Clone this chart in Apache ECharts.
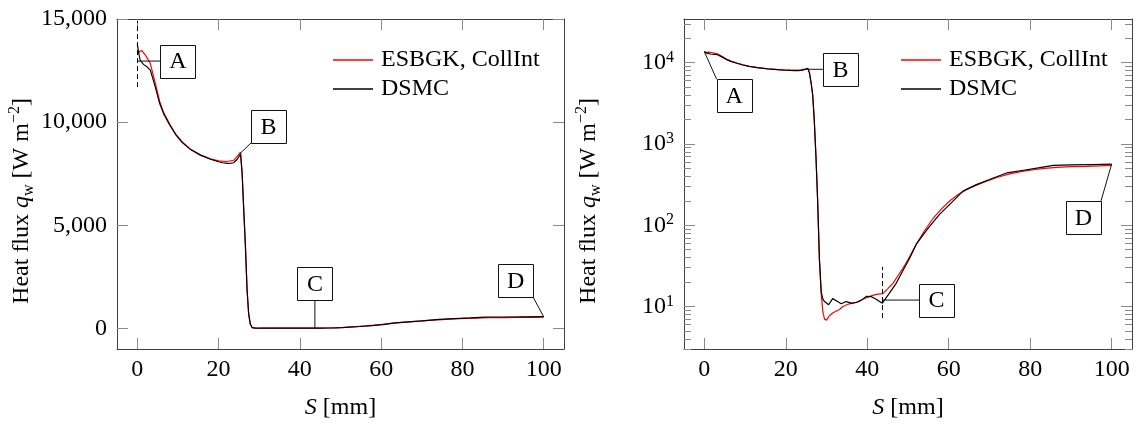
<!DOCTYPE html>
<html><head><meta charset="utf-8">
<script src="https://cdn.jsdelivr.net/npm/echarts@6/dist/echarts.min.js"></script>
<style>html,body{margin:0;padding:0;background:#fff}#c{width:1141px;height:428px}</style>
</head><body><div id="c"></div>
<script>
// ---- data (S in mm, heat flux in W m^-2) ----
const esbgkS = [0, 0.5, 1.1, 2.0, 3.2, 4.4, 5.5, 6.5, 8.0, 9.5, 11.0, 13.0, 15.5, 18.0, 20.0, 22.0, 23.7, 24.6, 25.4, 25.8, 26.2, 26.6, 27.0, 27.4, 27.8, 28.25, 28.7, 29.1, 29.5, 30.0, 30.7, 31.5, 32.3, 33.2, 34.0, 35.6, 37.3, 38.9, 40.6, 42.2, 43.8, 45.0, 46.3, 47.9, 49.2, 50.5, 52.0, 54.0, 56.2, 58.3, 60.3, 62.4, 64.4, 66.8, 69.3, 72.0, 75.0, 78.0, 80.8, 83.5, 86.5, 90.0, 93.9, 97.0, 100];
const esbgkQ = [13300, 13420, 13470, 13250, 12840, 11900, 11000, 10450, 9900, 9400, 9050, 8700, 8420, 8220, 8120, 8090, 8150, 8350, 8540, 7500, 5700, 4000, 1900, 700, 210, 38, 14, 8.6, 7.0, 6.8, 7.7, 8.3, 8.75, 9.2, 10.0, 10.8, 11.2, 12.3, 13.3, 14.1, 14.4, 16.5, 19.3, 25.5, 32, 42, 58, 85, 122, 160, 200, 240, 276, 312, 348, 390, 428, 460, 482, 500, 515, 525, 530, 538, 545];
const dsmcS = [0, 0.3, 0.7, 1.5, 2.4, 3.2, 4.4, 5.5, 6.5, 8.0, 9.5, 11.0, 13.0, 15.5, 18.0, 20.0, 21.0, 22.1, 23.0, 23.7, 24.6, 25.4, 25.8, 26.2, 26.6, 27.0, 27.4, 27.8, 28.25, 28.7, 29.1, 29.5, 30.5, 31.5, 32.6, 33.6, 34.8, 36.1, 37.3, 38.5, 39.75, 41.0, 42.2, 43.0, 43.7, 45.4, 47.1, 48.8, 50.5, 52.0, 54.8, 57.8, 60.5, 63.5, 66.8, 70.0, 74.2, 78.0, 82.0, 85.7, 90.0, 95.0, 100];
const dsmcQ = [13790, 13400, 13000, 12800, 12680, 12520, 11720, 10900, 10400, 9850, 9380, 9020, 8690, 8400, 8200, 8080, 8030, 8000, 8010, 8030, 8200, 8460, 7500, 5700, 4000, 1900, 700, 210, 38, 15, 12.3, 11.5, 10.5, 12.5, 11.6, 10.8, 11.5, 11.0, 11.2, 11.9, 13.3, 13.2, 12.3, 11.5, 11.0, 14.5, 19.3, 28, 40, 58, 90, 137, 186, 263, 316, 365, 440, 472, 508, 545, 552, 558, 565];

const seriesNames = ['ESBGK, CollInt', 'DSMC'];
const xTicks = [0, 20, 40, 60, 80, 100];
const linTicks = [0, 5000, 10000, 15000];
const logTicks = [10, 100, 1000, 10000];
const logMinorTicks = [3, 4, 5, 6, 7, 8, 9, 20, 30, 40, 50, 60, 70, 80, 90, 200, 300, 400, 500, 600, 700, 800, 900, 2000, 3000, 4000, 5000, 6000, 7000, 8000, 9000, 20000, 30000];

// annotations: pointed data point, box centre (data units), label
const annLabels = ['A', 'B', 'C', 'D'];
const annPointLin = [[0, 12960], [25.4, 8500], [43.7, 14], [100, 560]];
const annBoxLin = [[10.0, 12960], [32.3, 9795], [43.7, 2160], [93.1, 2310]];
const annAnchorLin = ['w', 'sw', 's', 'se'];
const annPointLog = [[0, 13700], [25.4, 8300], [43.7, 12], [100, 565]];
const annBoxLog = [[7.3, 3925], [33.4, 8300], [57.0, 12], [93.1, 125]];
const annAnchorLog = ['nw', 'w', 'w', 'ne'];
// dashed marker lines
const dashLin = [[0, 11700], [0, 14900]];
const dashLog = [[43.7, 7.2], [43.7, 30.8]];

const FONT = '"Liberation Serif", "Times New Roman", serif';
const FS = 24;
const AX = '#404040', TK = '#8a8a8a';

function zip(a, b) { return a.map((v, i) => [v, b[i]]); }
function fmtComma(v) { return String(v).replace(/\B(?=(\d{3})+(?!\d))/g, ','); }

function annRender(anchors, labels) {
  return function (params, api) {
    const i = params.dataIndex;
    const p = api.coord([api.value(0), api.value(1)]);
    const c = api.coord([api.value(2), api.value(3)]);
    const w = 35, h = 33;
    const off = { w: [-w / 2, 0], sw: [-w / 2, h / 2], s: [0, h / 2], se: [w / 2, h / 2], nw: [-w / 2, -h / 2], ne: [w / 2, -h / 2] }[anchors[i]];
    return {
      type: 'group', children: [
        { type: 'line', shape: { x1: p[0], y1: p[1], x2: c[0] + off[0], y2: c[1] + off[1] }, style: { stroke: '#111', lineWidth: 1 } },
        { type: 'rect', shape: { x: Math.round(c[0] - w / 2) + 0.5, y: Math.round(c[1] - h / 2) + 0.5, width: w, height: h }, style: { fill: '#fff', stroke: '#111', lineWidth: 1 } },
        { type: 'text', x: c[0], y: c[1] + 1, style: { text: labels[i], fill: '#000', font: FS + 'px ' + FONT, align: 'center', verticalAlign: 'middle' } }
      ]
    };
  };
}

const richName = {
  it: { fontStyle: 'italic', fontSize: FS, fontFamily: FONT, color: '#000', lineHeight: 30 },
  sub: { fontSize: 16, fontFamily: FONT, color: '#000', verticalAlign: 'bottom', lineHeight: 24 },
  sup: { fontSize: 16, fontFamily: FONT, color: '#000', verticalAlign: 'top', lineHeight: 20 }
};
const xNameStyle = { fontSize: FS, fontFamily: FONT, color: '#000', lineHeight: 30, rich: richName };
const yNameStyle = { fontSize: FS, fontFamily: FONT, color: '#000', lineHeight: 30, padding: [0, 34, 0, 0], rich: richName };
const labelStyle = { color: '#000', fontSize: FS, fontFamily: FONT };

function xAx(grid, top) {
  return {
    type: 'value', gridIndex: grid, min: -5, max: 105, position: top ? 'top' : 'bottom',
    axisLine: { show: true, onZero: false, lineStyle: { color: AX, width: 1 } },
    axisTick: { show: true, inside: true, length: 11, customValues: xTicks, lineStyle: { color: TK, width: 1 } },
    axisLabel: top ? { show: false } : Object.assign({ customValues: xTicks, margin: 9 }, labelStyle),
    splitLine: { show: false },
    name: top ? '' : '{it|S} [mm]', nameLocation: 'middle', nameGap: 44, nameTextStyle: xNameStyle
  };
}
function yLin(right) {
  return {
    type: 'value', gridIndex: 0, min: -1000, max: 15000, position: right ? 'right' : 'left',
    axisLine: { show: true, onZero: false, lineStyle: { color: AX, width: 1 } },
    axisTick: { show: true, inside: true, length: 11, customValues: linTicks, lineStyle: { color: TK, width: 1 } },
    axisLabel: right ? { show: false } : Object.assign({ customValues: linTicks, margin: 10, formatter: fmtComma }, labelStyle),
    splitLine: { show: false },
    name: right ? '' : 'Heat flux {it|q}{sub|w} [W m{sup|−2}]', nameLocation: 'middle', nameGap: 80, nameTextStyle: yNameStyle
  };
}
function yLog(right, minor) {
  return {
    type: 'log', logBase: 10, gridIndex: 1, min: 3, max: 34500, position: right ? 'right' : 'left',
    axisLine: { show: !minor, onZero: false, lineStyle: { color: AX, width: 1 } },
    axisTick: { show: true, inside: true, length: minor ? 7 : 11, customValues: minor ? logMinorTicks : logTicks, lineStyle: { color: TK, width: 1 } },
    axisLabel: (right || minor) ? { show: false } : Object.assign({
      customValues: logTicks, margin: 10,
      formatter: v => '10{sup|' + Math.round(Math.log10(v)) + '}',
      rich: { sup: { fontSize: 16, fontFamily: FONT, color: '#000', verticalAlign: 'top', lineHeight: 26, padding: [0, 0, 6, 0] } }
    }, labelStyle, { lineHeight: 26 }),
    splitLine: { show: false },
    name: (right || minor) ? '' : 'Heat flux {it|q}{sub|w} [W m{sup|−2}]', nameLocation: 'middle', nameGap: 80, nameTextStyle: yNameStyle
  };
}

function lineSeries(name, xs, ys, xi, yi, color, z, mark) {
  const s = {
    type: 'line', name: name, xAxisIndex: xi, yAxisIndex: yi, data: zip(xs, ys),
    symbol: 'none', showSymbol: false, lineStyle: { color: color, width: 1.2 }, itemStyle: { color: color },
    z: z, clip: true
  };
  if (mark) {
    s.markLine = {
      silent: true, symbol: ['none', 'none'], label: { show: false },
      lineStyle: { color: '#000', width: 1, type: [5, 3] },
      data: [[{ coord: mark[0] }, { coord: mark[1] }]]
    };
  }
  return s;
}

const legendBase = {
  orient: 'vertical', icon: 'rect', itemWidth: 40, itemHeight: 1.4, itemGap: 5, padding: 0,
  data: seriesNames, selectedMode: false,
  textStyle: { fontSize: FS, fontFamily: FONT, color: '#000', padding: [0, 0, 0, 3] }
};

const chart = echarts.init(document.getElementById('c'));
chart.setOption({
  animation: false,
  backgroundColor: '#fff',
  grid: [
    { left: 117, top: 19, width: 447, height: 334 },
    { left: 684, top: 19, width: 448, height: 334 }
  ],
  legend: [
    Object.assign({ left: 333, top: 48 }, legendBase),
    Object.assign({ left: 901, top: 48 }, legendBase)
  ],
  xAxis: [xAx(0, false), xAx(0, true), xAx(1, false), xAx(1, true)],
  yAxis: [yLin(false), yLin(true), yLog(false, false), yLog(false, true), yLog(true, false), yLog(true, true)],
  series: [
    lineSeries(seriesNames[0], esbgkS, esbgkQ, 0, 0, '#ff0000', 2),
    lineSeries(seriesNames[1], dsmcS, dsmcQ, 0, 0, '#000000', 3, dashLin),
    lineSeries(seriesNames[0], esbgkS, esbgkQ, 2, 2, '#ff0000', 2),
    lineSeries(seriesNames[1], dsmcS, dsmcQ, 2, 2, '#000000', 3, dashLog),
    {
      type: 'custom', xAxisIndex: 0, yAxisIndex: 0, z: 10, silent: true, clip: false,
      data: annPointLin.map((p, i) => [p[0], p[1], annBoxLin[i][0], annBoxLin[i][1]]),
      renderItem: annRender(annAnchorLin, annLabels)
    },
    {
      type: 'custom', xAxisIndex: 2, yAxisIndex: 2, z: 10, silent: true, clip: false,
      data: annPointLog.map((p, i) => [p[0], p[1], annBoxLog[i][0], annBoxLog[i][1]]),
      renderItem: annRender(annAnchorLog, annLabels)
    }
  ]
});
</script></body></html>
